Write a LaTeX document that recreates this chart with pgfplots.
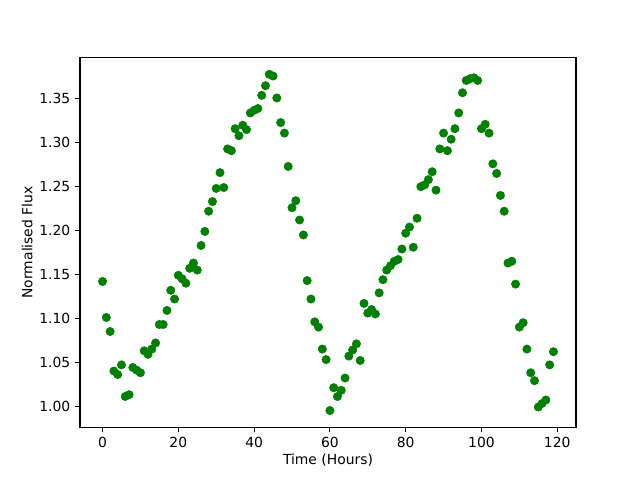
\documentclass[border=0pt]{standalone}
\usepackage{pgfplots}
\pgfplotsset{compat=1.18}
\usepackage{fontspec}
\setmainfont{DejaVu Sans}
\definecolor{mplgreen}{HTML}{008000}
\begin{document}
\begin{tikzpicture}
\path[use as bounding box] (-57.6pt,-38.016pt) rectangle (403.2pt,307.584pt);
\begin{axis}[
  at={(0,0)}, anchor=south west,
  scale only axis, width=357.12pt, height=266.11pt,
  xmin=-5.95, xmax=124.95, ymin=0.976, ymax=1.397,
  xtick={0,20,40,60,80,100,120},
  ytick={1.00,1.05,1.10,1.15,1.20,1.25,1.30,1.35},
  /pgf/number format/assume math mode=true,
  yticklabel style={/pgf/number format/.cd, fixed, fixed zerofill, precision=2},
  xticklabel style={/pgf/number format/.cd, fixed, precision=0},
  tick align=outside, tick pos=left,
  major tick length=3.5pt,
  every tick/.style={black, line width=0.8pt},
  axis line style={line width=0.8pt},
  tick label style={font=\fontsize{10}{12}\selectfont},
  label style={font=\fontsize{10}{12}\selectfont},
  xlabel={Time (Hours)}, ylabel={Normalised Flux},
  xlabel style={yshift=2pt},
  ylabel style={yshift=-2pt},
  scaled y ticks=false,
]
\addplot[only marks, mark=*, mark size=3pt, color=mplgreen, mark options={draw=mplgreen, fill=mplgreen}] table {
x y
0 1.142
1 1.101
2 1.085
3 1.040
4 1.036
5 1.047
6 1.011
7 1.013
8 1.044
9 1.041
10 1.038
11 1.063
12 1.059
13 1.065
14 1.072
15 1.093
16 1.093
17 1.109
18 1.132
19 1.122
20 1.149
21 1.145
22 1.140
23 1.157
24 1.163
25 1.155
26 1.183
27 1.199
28 1.222
29 1.233
30 1.248
31 1.266
32 1.249
33 1.293
34 1.291
35 1.316
36 1.308
37 1.320
38 1.315
39 1.334
40 1.337
41 1.339
42 1.354
43 1.365
44 1.378
45 1.376
46 1.351
47 1.323
48 1.311
49 1.273
50 1.226
51 1.234
52 1.212
53 1.195
54 1.143
55 1.122
56 1.096
57 1.090
58 1.065
59 1.053
60 0.995
61 1.021
62 1.011
63 1.018
64 1.032
65 1.057
66 1.064
67 1.071
68 1.052
69 1.117
70 1.106
71 1.110
72 1.105
73 1.129
74 1.144
75 1.155
76 1.160
77 1.165
78 1.167
79 1.179
80 1.197
81 1.204
82 1.181
83 1.214
84 1.250
85 1.252
86 1.258
87 1.267
88 1.246
89 1.293
90 1.311
91 1.291
92 1.304
93 1.316
94 1.334
95 1.357
96 1.371
97 1.373
98 1.374
99 1.371
100 1.316
101 1.321
102 1.311
103 1.276
104 1.265
105 1.240
106 1.222
107 1.163
108 1.165
109 1.139
110 1.090
111 1.095
112 1.065
113 1.038
114 1.029
115 0.999
116 1.003
117 1.007
118 1.047
119 1.062
};
\end{axis}
\end{tikzpicture}
\end{document}
